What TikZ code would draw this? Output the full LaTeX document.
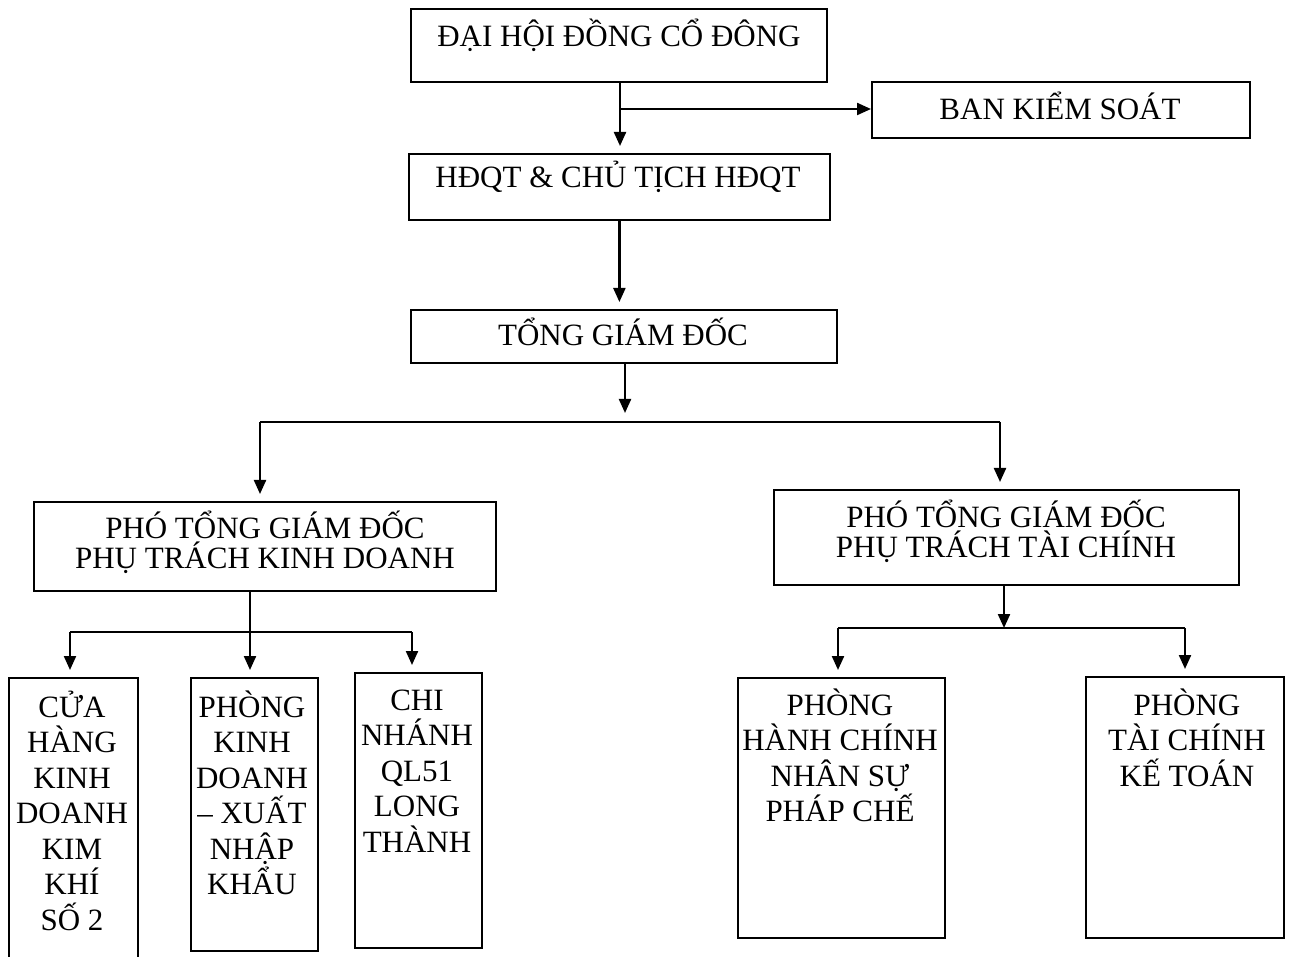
\documentclass[tikz,border=0pt]{standalone}
\usepackage{fontspec}
\setmainfont{Liberation Serif}
\usetikzlibrary{arrows.meta}
\begin{document}
\begin{tikzpicture}[x=1pt,y=-1pt,
  box/.style={draw, line width=1.8pt, inner sep=0pt, anchor=north west},
  lbl/.style={font=\fontsize{31}{30}\selectfont, align=center, inner sep=0pt, anchor=base},
  lblb/.style={font=\fontsize{31}{35.5}\selectfont, align=center, inner sep=0pt, anchor=base},
  conn/.style={line width=2.2pt},
  arr/.style={conn, -{Triangle[width=12pt,length=14pt]}, shorten >=7pt},
  arrt/.style={conn, -{Triangle[width=12pt,length=14pt]}}]
\useasboundingbox (0,0) rectangle (1291,957);
\clip (0,0) rectangle (1291,957);
% boxes
\node[box, minimum width=416pt, minimum height=73pt] (dh) at (410,8) {};
\node[box, minimum width=378pt, minimum height=56pt] (bks) at (871,81) {};
\node[box, minimum width=421pt, minimum height=66pt] (hd) at (408,153) {};
\node[box, minimum width=426pt, minimum height=53pt] (tgd) at (410,309) {};
\node[box, minimum width=462pt, minimum height=89pt] (pkd) at (33,501) {};
\node[box, minimum width=465pt, minimum height=95pt] (ptc) at (773,489) {};
\node[box, minimum width=129pt, minimum height=300pt] (ch) at (8,677) {};
\node[box, minimum width=127pt, minimum height=273pt] (pk) at (190,677) {};
\node[box, minimum width=127pt, minimum height=275pt] (cn) at (354,672) {};
\node[box, minimum width=207pt, minimum height=260pt] (hc) at (737,677) {};
\node[box, minimum width=198pt, minimum height=261pt] (tc) at (1085,676) {};
% texts (anchor = baseline of the last line)
\node[lbl] (tdh) at (619,47) {ĐẠI HỘI ĐỒNG CỔ ĐÔNG};
\node[lbl] (tbks) at (1060,120) {BAN KIỂM SOÁT};
\node[lbl] (thd) at (618,188) {HĐQT \& CHỦ TỊCH HĐQT};
\node[lbl] (ttgd) at (623,346) {TỔNG GIÁM ĐỐC};
\node[lbl] (tpkd) at (265,568) {PHÓ TỔNG GIÁM ĐỐC\\PHỤ TRÁCH KINH DOANH};
\node[lbl] (tptc) at (1006,557) {PHÓ TỔNG GIÁM ĐỐC\\PHỤ TRÁCH TÀI CHÍNH};
\node[lblb] (tch) at (72,930) {CỬA\\HÀNG\\KINH\\DOANH\\KIM\\KHÍ\\SỐ 2};
\node[lblb] (tpk) at (252,894.5) {PHÒNG\\KINH\\DOANH\\– XUẤT\\NHẬP\\KHẨU};
\node[lblb] (tcn) at (417,852) {CHI\\NHÁNH\\QL51\\LONG\\THÀNH};
\node[lblb] (thc) at (840,821.5) {PHÒNG\\HÀNH CHÍNH\\NHÂN SỰ\\PHÁP CHẾ};
\node[lblb] (ttc) at (1187,786) {PHÒNG\\TÀI CHÍNH\\KẾ TOÁN};
% coordinates
\coordinate (j1) at (620,109);
\coordinate (t1) at (625,413);
\coordinate (busL) at (260,422);
\coordinate (busR) at (1000,422);
\coordinate (k) at (250,632);
\coordinate (kL) at (70,632);
\coordinate (kR) at (412,632);
\coordinate (f) at (1004,628);
\coordinate (fL) at (838,628);
\coordinate (fR) at (1185,628);
% connectors
\draw[arr] (dh.south -| j1) -- (j1 |- hd.north);
\draw[arrt] (j1) -- (j1 -| bks.west);
\draw[arr] (hd.south) -- (hd.south |- tgd.north);
\draw[arrt] (tgd.south -| t1) -- (t1);
\draw[conn] (busL) -- (busR);
\draw[arr] (busL) -- (busL |- pkd.north);
\draw[arr] (busR) -- (busR |- ptc.north);
\draw[conn] (kL) -- (kR);
\draw[arr] (pkd.south -| k) -- (k |- pk.north);
\draw[arr] (kL) -- (kL |- ch.north);
\draw[arr] (kR) -- (kR |- cn.north);
\draw[arrt] (ptc.south -| f) -- (f);
\draw[conn] (fL) -- (fR);
\draw[arr] (fL) -- (fL |- hc.north);
\draw[arr] (fR) -- (fR |- tc.north);
\end{tikzpicture}
\end{document}
